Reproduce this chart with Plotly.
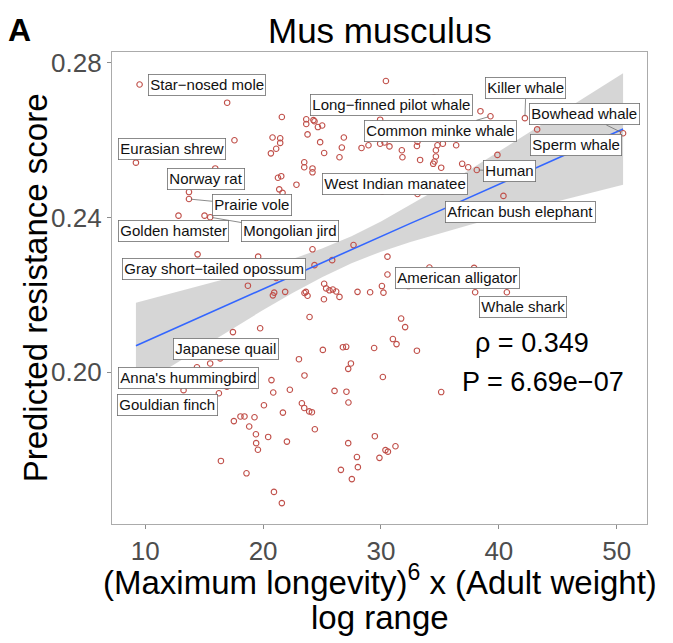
import plotly.graph_objects as go

# Labelled species: point values (x = log range, y = predicted resistance score)
lab_names = [
    "Star−nosed mole", "Eurasian shrew", "Norway rat", "Prairie vole",
    "Golden hamster", "Mongolian jird", "Long−finned pilot whale",
    "Common minke whale", "Killer whale", "Bowhead whale", "Sperm whale",
    "Human", "West Indian manatee", "African bush elephant",
    "Gray short−tailed opossum", "American alligator", "Whale shark",
    "Japanese quail", "Anna's hummingbird", "Gouldian finch",
]
lab_x = [9.52, 9.21, 13.71, 13.71, 12.82, 15.51, 34.49, 39.29, 42.21, 50.54,
         43.25, 38.13, 33.10, 40.39, 19.58, 30.55, 40.68, 15.51, 16.93, 13.25]
lab_y = [0.2744, 0.2542, 0.2466, 0.2448, 0.2405, 0.2401, 0.2711, 0.2662,
         0.2657, 0.2618, 0.2628, 0.2523, 0.2461, 0.2456, 0.2299, 0.2253,
         0.2207, 0.2023, 0.1963, 0.1954]
# Where each text box sits, and whether a connector segment is drawn
txt_x = [15.23, 12.29, 15.15, 19.06, 12.40, 22.30, 30.86, 35.02, 42.30, 47.30,
         46.57, 40.94, 31.20, 41.83, 15.83, 36.53, 42.08, 16.89, 13.67, 11.93]
txt_y = [0.27432, 0.25778, 0.25003, 0.24323, 0.23656, 0.23656, 0.26907,
         0.26240, 0.27338, 0.26667, 0.25881, 0.25202, 0.24871, 0.24150,
         0.22677, 0.22437, 0.21687, 0.20597, 0.19853, 0.19163]
has_segment = [False, False, False, True, False, True, False, True, True, True,
               False, True, False, False, False, False, False, False, False, False]

# Remaining species
other_x = [16.95, 21.59, 17.57, 20.80, 21.45, 21.45, 21.11, 20.66, 15.94, 21.26,
           21.54, 22.83, 21.37, 21.65, 15.03, 30.42, 38.44, 23.66, 24.27, 24.36,
           23.66, 24.65, 25.01, 23.77, 29.93, 29.28, 26.85, 24.84, 25.18, 26.68,
           26.48, 28.35, 28.94, 29.93, 30.30, 30.72, 33.05, 33.10, 34.79, 35.25,
           36.38, 31.77, 31.82, 34.66, 34.66, 34.54, 34.43, 33.32, 35.11, 36.89,
           37.40, 23.49, 23.49, 24.19, 24.19, 30.10, 27.67, 24.19, 39.88, 14.44,
           21.11, 18.71, 20.94, 20.83, 21.87, 17.44, 19.75, 23.04, 16.36, 14.39,
           16.25, 20.71, 20.86, 22.27, 20.07, 21.68, 17.52, 18.08, 18.42, 19.27,
           18.82, 19.39, 20.43, 19.41, 19.56, 22.02, 16.42, 18.59, 20.92, 21.59,
           30.55, 25.86, 24.36, 34.11, 37.90, 25.18, 25.35, 25.63, 25.92, 26.20,
           26.48, 23.63, 23.51, 23.77, 25.16, 28.01, 29.08, 30.08, 30.21, 32.33,
           37.99, 23.94, 31.71, 32.05, 31.01, 31.32, 33.05, 25.07, 26.77, 27.05,
           29.42, 27.45, 27.22, 23.51, 30.16, 26.06, 27.07, 27.24, 35.11, 23.29,
           23.49, 23.91, 24.14, 24.39, 29.48, 27.22, 30.38, 30.59, 31.23, 27.96,
           29.87, 26.60, 28.04, 27.53]
other_y = [0.2697, 0.2660, 0.2600, 0.2607, 0.2605, 0.2593, 0.2578, 0.2566, 0.2527, 0.2503,
           0.2507, 0.2485, 0.2473, 0.2464, 0.2405, 0.2753, 0.2675, 0.2654, 0.2652, 0.2649,
           0.2642, 0.2634, 0.2638, 0.2615, 0.2653, 0.2642, 0.2607, 0.2595, 0.2567, 0.2581,
           0.2556, 0.2580, 0.2587, 0.2591, 0.2594, 0.2584, 0.2585, 0.2596, 0.2587, 0.2591,
           0.2587, 0.2574, 0.2556, 0.2574, 0.2558, 0.2545, 0.2539, 0.2549, 0.2529, 0.2539,
           0.2530, 0.2543, 0.2530, 0.2527, 0.2517, 0.2467, 0.2329, 0.2318, 0.2562, 0.2305,
           0.2244, 0.2224, 0.2206, 0.2199, 0.2208, 0.2104, 0.2114, 0.2034, 0.2036, 0.2013,
           0.1946, 0.1980, 0.1948, 0.1955, 0.1915, 0.1896, 0.1874, 0.1886, 0.1886, 0.1884,
           0.1860, 0.1840, 0.1833, 0.1817, 0.1800, 0.1821, 0.1771, 0.1739, 0.1691, 0.1662,
           0.2299, 0.2290, 0.2277, 0.2271, 0.2270, 0.2229, 0.2217, 0.2212, 0.2214, 0.2209,
           0.2195, 0.2208, 0.2205, 0.2198, 0.2189, 0.2208, 0.2207, 0.2223, 0.2206, 0.2223,
           0.2207, 0.2143, 0.2139, 0.2117, 0.2086, 0.2073, 0.2056, 0.2058, 0.2065, 0.2066,
           0.2063, 0.2023, 0.2009, 0.1992, 0.1988, 0.1952, 0.1950, 0.1922, 0.1949, 0.1920,
           0.1908, 0.1899, 0.1897, 0.1853, 0.1835, 0.1817, 0.1799, 0.1795, 0.1809, 0.1781,
           0.1779, 0.1748, 0.1755, 0.1724]

# Linear trend and its 95% confidence band, sampled along the x range
fit_x = [9.21, 12, 15, 17.5, 20, 22.5, 25, 27.5, 30, 32.5, 35, 37.5, 40,
         42.5, 45, 47.5, 50.54]
fit_y = [0.2069, 0.2107, 0.2147, 0.2181, 0.2215, 0.2249, 0.2283, 0.2317, 0.2351,
         0.2385, 0.2418, 0.2452, 0.2486, 0.2520, 0.2554, 0.2588, 0.2629]
band_hi = [0.2180, 0.2202, 0.2226, 0.2247, 0.2269, 0.2293, 0.2320, 0.2352, 0.2390,
           0.2433, 0.2477, 0.2523, 0.2571, 0.2618, 0.2666, 0.2714, 0.2773]
band_lo = [0.1958, 0.2012, 0.2068, 0.2115, 0.2161, 0.2205, 0.2246, 0.2282, 0.2312,
           0.2337, 0.2359, 0.2381, 0.2402, 0.2422, 0.2442, 0.2462, 0.2485]

x_ticks = [10, 20, 30, 40, 50]
y_ticks = [0.20, 0.24, 0.28]
title_text = "Mus musculus"
stat_lines = ["ρ = 0.349", "P = 6.69e−07"]

FONT = "Liberation Sans, Arial, sans-serif"

all_x = lab_x + other_x
all_y = lab_y + other_y

fig = go.Figure()
fig.add_trace(go.Scatter(
    x=fit_x + fit_x[::-1], y=band_hi + band_lo[::-1], mode="lines",
    fill="toself", fillcolor="rgba(153,153,153,0.4)",
    line=dict(width=0), hoverinfo="skip", showlegend=False,
))
fig.add_trace(go.Scatter(
    x=all_x, y=all_y, mode="markers",
    marker=dict(symbol="circle-open", size=5.5, color="#C0504A",
                line=dict(width=1.1, color="#C0504A")),
    showlegend=False,
))
fig.add_trace(go.Scatter(
    x=fit_x, y=fit_y, mode="lines", line=dict(color="#3366FF", width=1.6),
    showlegend=False,
))

annotations = []
for name, px, py, tx, ty, seg in zip(lab_names, lab_x, lab_y, txt_x, txt_y, has_segment):
    common = dict(
        text=name, font=dict(family=FONT, size=15, color="#111111"),
        bgcolor="white", bordercolor="#6e6e6e", borderwidth=0.8, borderpad=1.5,
        xanchor="center", yanchor="middle",
    )
    if seg:
        annotations.append(dict(
            x=px, y=py, xref="x", yref="y", ax=tx, ay=ty, axref="x", ayref="y",
            showarrow=True, arrowhead=0, arrowwidth=0.8, arrowcolor="#6e6e6e",
            standoff=2, **common))
    else:
        annotations.append(dict(x=tx, y=ty, xref="x", yref="y", showarrow=False, **common))

def paper_text(x, y, text, size, **kw):
    return dict(x=x, y=y, xref="paper", yref="paper", text=text, showarrow=False,
                xanchor="center", yanchor="middle",
                font=dict(family=FONT, size=size, color="black"), **kw)

annotations += [
    dict(x=42.78, y=0.20757, xref="x", yref="y", text=stat_lines[0], showarrow=False,
         xanchor="center", yanchor="middle", font=dict(family=FONT, size=27, color="black")),
    dict(x=43.78, y=0.19757, xref="x", yref="y", text=stat_lines[1], showarrow=False,
         xanchor="center", yanchor="middle", font=dict(family=FONT, size=27, color="black")),
    paper_text(0.5, 1.046, title_text, 35),
    paper_text(-0.173, 1.046, "<b>A</b>", 32),
    paper_text(-0.1433, 0.5, "Predicted resistance score", 33, textangle=-90),
    paper_text(0.5, -0.1186, "(Maximum longevity)<sup>6</sup> x (Adult weight)", 33),
    paper_text(0.5, -0.199, "log range", 33),
]

axis_common = dict(
    showgrid=False, zeroline=False, showline=True, mirror=True,
    linecolor="#ababab", linewidth=1.2, ticks="outside", ticklen=4,
    tickcolor="#8c8c8c", tickwidth=1,
    tickfont=dict(family=FONT, size=26, color="#4d4d4d"),
)
fig.update_layout(
    width=673, height=643,
    margin=dict(l=112, r=26, t=52, b=119),
    paper_bgcolor="white", plot_bgcolor="white",
    xaxis=dict(range=[7.18, 52.57], tickvals=x_ticks, ticktext=[str(v) for v in x_ticks],
               **axis_common),
    yaxis=dict(range=[0.1608, 0.2828], tickvals=y_ticks,
               ticktext=[f"{v:.2f}" for v in y_ticks], **axis_common),
    annotations=annotations,
)
fig.write_html("out.html")
